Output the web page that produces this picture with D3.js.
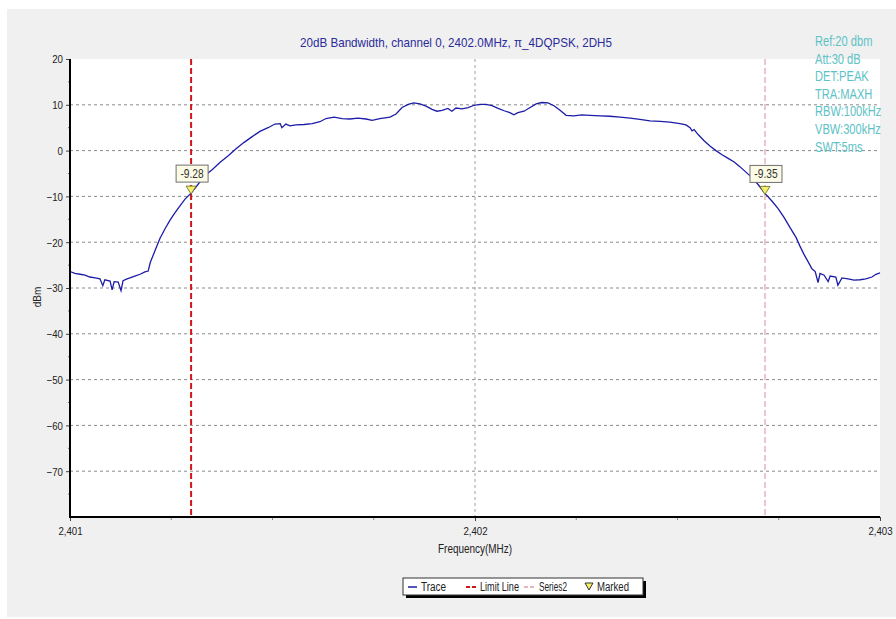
<!DOCTYPE html>
<html><head><meta charset="utf-8">
<script src="https://cdn.jsdelivr.net/npm/d3@7"></script>
<style>body{margin:0;background:#fff;}svg{display:block;}</style>
</head><body>
<svg id="c" width="896" height="619"></svg>
<script>
const title = "20dB Bandwidth, channel 0, 2402.0MHz, π_4DQPSK, 2DH5";
const infoLines = ["Ref:20 dbm","Att:30 dB","DET:PEAK","TRA:MAXH","RBW:100kHz","VBW:300kHz","SWT:5ms"];
const xTicks = [2401, 2402, 2403];
const xTickLabels = ["2,401", "2,402", "2,403"];
const yTicks = [20, 10, 0, -10, -20, -30, -40, -50, -60, -70];
const traceFreq = [2401.000,2401.012,2401.025,2401.037,2401.049,2401.062,2401.074,2401.081,2401.086,2401.099,2401.104,2401.109,2401.119,2401.126,2401.131,2401.141,2401.148,2401.160,2401.173,2401.185,2401.193,2401.198,2401.210,2401.222,2401.235,2401.247,2401.259,2401.272,2401.284,2401.299,2401.309,2401.321,2401.336,2401.351,2401.370,2401.390,2401.410,2401.430,2401.449,2401.469,2401.489,2401.506,2401.519,2401.523,2401.533,2401.543,2401.558,2401.578,2401.598,2401.617,2401.632,2401.652,2401.672,2401.691,2401.711,2401.731,2401.746,2401.765,2401.790,2401.805,2401.820,2401.835,2401.849,2401.864,2401.879,2401.894,2401.906,2401.919,2401.933,2401.943,2401.953,2401.968,2401.983,2401.998,2402.012,2402.027,2402.042,2402.057,2402.072,2402.086,2402.096,2402.106,2402.121,2402.136,2402.151,2402.165,2402.180,2402.195,2402.210,2402.225,2402.244,2402.264,2402.284,2402.309,2402.333,2402.358,2402.383,2402.407,2402.432,2402.457,2402.481,2402.506,2402.521,2402.531,2402.536,2402.541,2402.551,2402.565,2402.580,2402.595,2402.610,2402.625,2402.640,2402.654,2402.669,2402.684,2402.699,2402.716,2402.733,2402.748,2402.763,2402.778,2402.793,2402.802,2402.812,2402.822,2402.832,2402.840,2402.847,2402.852,2402.862,2402.872,2402.877,2402.891,2402.896,2402.906,2402.921,2402.936,2402.951,2402.965,2402.980,2402.990,2403.000];
const traceLevel = [-26.4,-26.8,-27.0,-27.2,-27.6,-27.8,-28.0,-29.5,-28.2,-28.5,-30.4,-28.6,-28.7,-30.6,-28.4,-28.0,-27.8,-27.4,-27.0,-26.5,-26.3,-24.5,-21.8,-19.2,-17.0,-15.2,-13.6,-12.0,-10.6,-9.28,-8.2,-6.8,-5.2,-4.2,-2.6,-1.2,0.4,1.8,3.0,4.2,5.0,5.8,5.9,5.0,5.8,5.4,5.6,5.7,5.9,6.3,7.0,7.3,7.0,6.9,7.1,6.9,6.6,7.0,7.3,8.0,9.4,10.1,10.4,10.2,9.7,9.0,8.6,8.8,9.2,8.6,9.3,9.1,9.4,9.9,10.1,10.1,9.8,9.2,8.7,8.3,7.8,8.3,8.6,9.4,10.2,10.5,10.4,9.8,8.8,7.7,7.6,7.8,7.7,7.6,7.5,7.3,7.1,6.8,6.5,6.4,6.2,5.9,5.6,5.0,4.3,4.6,3.5,2.2,1.0,0.0,-0.9,-1.7,-2.5,-3.5,-4.7,-5.9,-7.4,-9.35,-11.0,-12.6,-14.6,-16.8,-19.0,-20.8,-22.6,-24.2,-25.8,-26.4,-28.8,-26.8,-27.2,-28.6,-27.4,-27.6,-29.4,-27.8,-28.0,-28.3,-28.2,-28.0,-27.6,-27.0,-26.7];
const limitFreq = [2401.299];
const series2Freq = [2402.716];
const markerFreq = [2401.299, 2402.716];
const markerLevel = [-9.28, -9.35];
const markerLabels = ["-9.28", "-9.35"];
const legendItems = ["Trace", "Limit Line", "Series2", "Marked"];

const svg = d3.select("#c");
const font = "'Liberation Sans',Arial,sans-serif";
function condense(sel, f){ sel.each(function(){ const w=this.getComputedTextLength(); this.setAttribute("textLength", (w*f).toFixed(1)); this.setAttribute("lengthAdjust","spacingAndGlyphs"); }); }

svg.append("rect").attr("x",7).attr("y",9).attr("width",889).attr("height",608).attr("fill","#f0f0f0");

const L=70,R=880,T=59,B=517;
const x = d3.scaleLinear().domain([2401,2403]).range([L,R]);
const y = d3.scaleLinear().domain([-80,20]).range([B,T]);

svg.append("rect").attr("x",L).attr("y",T).attr("width",R-L).attr("height",B-T).attr("fill","#fff");

// grid
svg.append("g").selectAll("line").data(yTicks.filter(v=>v<20)).join("line")
  .attr("x1",L).attr("x2",R).attr("y1",d=>y(d)).attr("y2",d=>y(d))
  .attr("stroke","#8a8a8a").attr("stroke-width",1).attr("stroke-dasharray","3,3");
svg.append("line").attr("x1",x(2402)).attr("x2",x(2402)).attr("y1",T).attr("y2",B)
  .attr("stroke","#a0a0a0").attr("stroke-dasharray","3,3");

// limit & series2
svg.append("g").selectAll("line").data(limitFreq).join("line")
  .attr("x1",d=>x(d)).attr("x2",d=>x(d)).attr("y1",T).attr("y2",B)
  .attr("stroke","#d01818").attr("stroke-width",2).attr("stroke-dasharray","6,3");
svg.append("g").selectAll("line").data(series2Freq).join("line")
  .attr("x1",d=>x(d)).attr("x2",d=>x(d)).attr("y1",T).attr("y2",B)
  .attr("stroke","#e0a0a8").attr("stroke-width",1.2).attr("stroke-dasharray","6,3");

// trace
const pts = traceFreq.map((f,i)=>[f,traceLevel[i]]);
svg.append("path").datum(pts)
  .attr("d", d3.line().x(d=>x(d[0])).y(d=>y(d[1])))
  .attr("fill","none").attr("stroke","#1c1ca8").attr("stroke-width",1.3);

// axes
const yAxis = d3.axisLeft(y).tickValues(yTicks).tickSize(4).tickFormat(d3.format("d"));
const gy = svg.append("g").attr("transform",`translate(${L},0)`).call(yAxis);
gy.select(".domain").remove();
gy.selectAll("text").attr("font-family",font).attr("font-size",11).attr("fill","#222").attr("dy","0.35em").attr("x",-7);
gy.selectAll(".tick line").attr("stroke","#444");
condense(gy.selectAll("text"),0.88);
const yMinor = d3.range(-75,20,5).filter(v=>v%10!==0);
svg.append("g").selectAll("line").data(yMinor).join("line")
  .attr("x1",L-2).attr("x2",L).attr("y1",d=>y(d)).attr("y2",d=>y(d)).attr("stroke","#777");

const xAxis = d3.axisBottom(x).tickValues(xTicks).tickSize(4).tickFormat((d,i)=>xTickLabels[i]);
const gx = svg.append("g").attr("transform",`translate(0,${B})`).call(xAxis);
gx.select(".domain").remove();
gx.selectAll("text").attr("font-family",font).attr("font-size",11).attr("fill","#222").attr("y",10);
gx.selectAll(".tick line").attr("stroke","#444");
condense(gx.selectAll("text"),0.88);
const xMinor = d3.range(2401.25,2403,0.25).filter(v=>Math.abs(v-2402)>1e-6);
svg.append("g").selectAll("line").data(xMinor).join("line")
  .attr("x1",d=>x(d)).attr("x2",d=>x(d)).attr("y1",B).attr("y2",B+3).attr("stroke","#888");

svg.append("line").attr("x1",L).attr("x2",L).attr("y1",T).attr("y2",B+1).attr("stroke","#000").attr("stroke-width",2);
svg.append("line").attr("x1",L-1).attr("x2",R).attr("y1",B).attr("y2",B).attr("stroke","#000").attr("stroke-width",2);

// labels
const tt = svg.append("text").attr("x",456).attr("y",47).attr("text-anchor","middle")
  .attr("font-family",font).attr("font-size",13).attr("fill","#2b2b9a").text(title);
tt.attr("textLength",312).attr("lengthAdjust","spacingAndGlyphs");
svg.append("text").attr("x",475).attr("y",553).attr("text-anchor","middle")
  .attr("font-family",font).attr("font-size",12).attr("fill","#222").text("Frequency(MHz)")
  .attr("textLength",74).attr("lengthAdjust","spacingAndGlyphs");
svg.append("text").attr("transform","translate(41,297) rotate(-90)").attr("text-anchor","middle")
  .attr("font-family",font).attr("font-size",10).attr("fill","#222").text("dBm");

const info = svg.append("g").selectAll("text").data(infoLines).join("text")
  .attr("x",815).attr("y",(d,i)=>46+i*17.6)
  .attr("font-family",font).attr("font-size",15).attr("fill","#5cc2c6").text(d=>d);
condense(info,0.74);

// markers
const mk = svg.append("g").selectAll("g").data(markerFreq).join("g");
mk.append("path").attr("d",(d,i)=>{const px=x(d),py=y(markerLevel[i]);return `M${px-5},${py-7}L${px+5},${py-7}L${px},${py+1}Z`;})
  .attr("fill","#f4f06a").attr("stroke","#6a6a20").attr("stroke-width",0.8);
mk.append("rect").attr("x",d=>x(d)-15).attr("y",(d,i)=>y(markerLevel[i])-28).attr("width",32).attr("height",17)
  .attr("fill","#fbfbe6").attr("stroke","#707070").attr("stroke-width",1);
const ml = mk.append("text").attr("x",d=>x(d)+1).attr("y",(d,i)=>y(markerLevel[i])-15).attr("text-anchor","middle")
  .attr("font-family",font).attr("font-size",12).attr("fill","#333").text((d,i)=>markerLabels[i]);
condense(ml,0.85);

// legend
const lg = svg.append("g");
lg.append("rect").attr("x",406).attr("y",581).attr("width",240).attr("height",17).attr("fill","#000");
lg.append("rect").attr("x",403).attr("y",578).attr("width",240).attr("height",17).attr("fill","#fff").attr("stroke","#333");
const legText = (tx, s, w) => lg.append("text").attr("x",tx).attr("y",591).attr("font-family",font).attr("font-size",12)
  .attr("fill","#222").text(s).attr("textLength",w).attr("lengthAdjust","spacingAndGlyphs");
lg.append("line").attr("x1",408).attr("x2",417).attr("y1",587).attr("y2",587).attr("stroke","#1c1ca8").attr("stroke-width",1.5);
legText(421, legendItems[0], 25);
lg.append("line").attr("x1",466).attr("x2",477).attr("y1",587).attr("y2",587).attr("stroke","#d01818").attr("stroke-width",2).attr("stroke-dasharray","4,2");
legText(480, legendItems[1], 39);
lg.append("line").attr("x1",524).attr("x2",536).attr("y1",587).attr("y2",587).attr("stroke","#e0a0a8").attr("stroke-width",1.5).attr("stroke-dasharray","4,2");
legText(539, legendItems[2], 28);
lg.append("path").attr("d","M585,583L593,583L589,590Z").attr("fill","#f4f06a").attr("stroke","#333").attr("stroke-width",1);
legText(597, legendItems[3], 32);
</script>
</body></html>
